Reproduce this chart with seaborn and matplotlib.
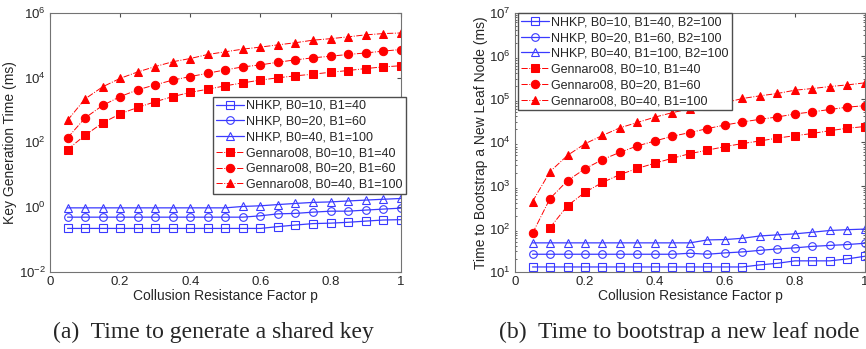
import matplotlib
matplotlib.use('Agg')
import matplotlib.pyplot as plt
import matplotlib.ticker as mticker
import numpy as np
import pandas as pd
import seaborn as sns

# collusion resistance factor p
p = [0.05, 0.1, 0.15, 0.2, 0.25, 0.3, 0.35, 0.4, 0.45, 0.5,
     0.55, 0.6, 0.65, 0.7, 0.75, 0.8, 0.85, 0.9, 0.95, 1.0]

# (a) key generation time (ms)
keygen_nhkp_10 = [0.22, 0.22, 0.22, 0.22, 0.22, 0.22, 0.22, 0.22, 0.22, 0.22,
                  0.22, 0.22, 0.25, 0.28, 0.31, 0.32, 0.34, 0.37, 0.40, 0.41]
keygen_nhkp_20 = [0.49, 0.49, 0.49, 0.49, 0.49, 0.49, 0.49, 0.49, 0.49, 0.49,
                  0.49, 0.54, 0.62, 0.64, 0.70, 0.75, 0.75, 0.81, 0.87, 0.93]
keygen_nhkp_40 = [0.95, 0.95, 0.95, 0.95, 0.95, 0.95, 0.95, 0.95, 0.95, 0.95,
                  1.05, 1.1, 1.2, 1.3, 1.4, 1.45, 1.55, 1.65, 1.75, 1.85]
keygen_gen_10 = [60, 166, 400, 760, 1200, 1800, 2600, 3500, 4400, 5600,
                 6900, 8400, 9900, 11400, 12800, 14700, 16600, 19100, 21500, 23300]
keygen_gen_20 = [137, 570, 1380, 2600, 4200, 6000, 8400, 10800, 13700, 17400,
                 21500, 24800, 30000, 35500, 41000, 46000, 52000, 58000, 66000, 74000]
keygen_gen_40 = [480, 2200, 5200, 9500, 15000, 22000, 31000, 39000, 52000, 63000,
                 76000, 88000, 103000, 120000, 144000, 160000, 182000, 210000, 230000, 240000]

# (b) bootstrap time (ms)
boot_nhkp_10 = [13, 13, 13, 13, 13, 13, 13, 13, 13, 13,
                13, 13, 13, 14.5, 15.8, 18, 18, 18, 20, 23]
boot_nhkp_20 = [25.6, 25.6, 25.6, 25.6, 25.6, 25.6, 25.6, 25.6, 25.6, 27,
                25.6, 27.5, 29, 31.5, 34, 36, 39, 41, 43, 46]
boot_nhkp_40 = [47, 47, 47, 47, 47, 47, 47, 47, 47, 47,
                55, 56, 60, 68, 72, 76, 83, 91, 95, 98]
boot_gen_10 = [np.nan, 106, 340, 700, 1180, 1800, 2500, 3300, 4300, 5500,
               6600, 8000, 9400, 10800, 12600, 14300, 16100, 18700, 21300, 23300]
boot_gen_20 = [78, 500, 1300, 2450, 4000, 5900, 8300, 10800, 13900, 16900,
               20900, 25300, 29700, 34300, 38800, 45600, 51000, 57900, 65500, 71000]
boot_gen_40 = [425, 2100, 5000, 9300, 14500, 21800, 29000, 38500, 49000, 60000,
               71000, 83000, 104000, 120000, 136000, 162000, 177000, 197000, 215000, 240000]

labels_a = ['NHKP, B0=10, B1=40', 'NHKP, B0=20, B1=60', 'NHKP, B0=40, B1=100',
            'Gennaro08, B0=10, B1=40', 'Gennaro08, B0=20, B1=60', 'Gennaro08, B0=40, B1=100']
labels_b = ['NHKP, B0=10, B1=40, B2=100', 'NHKP, B0=20, B1=60, B2=100',
            'NHKP, B0=40, B1=100, B2=100',
            'Gennaro08, B0=10, B1=40', 'Gennaro08, B0=20, B1=60', 'Gennaro08, B0=40, B1=100']

sns.set_style('white')
plt.rcParams['font.family'] = ['Liberation Sans', 'DejaVu Sans']
plt.rcParams['mathtext.default'] = 'regular'

blue = '#3a3aff'
red = '#ff0000'
markers = ['s', 'o', '^']


def draw_panel(ax, series, labels):
    for i, (vals, lab) in enumerate(zip(series, labels)):
        d = pd.DataFrame({'p': p, 't': vals}).dropna()
        if i < 3:
            sns.lineplot(data=d, x='p', y='t', ax=ax, label=lab, color=blue,
                         marker=markers[i], markersize=5.5, markerfacecolor='none',
                         markeredgecolor=blue, markeredgewidth=0.8, linewidth=0.9)
        else:
            sns.lineplot(data=d, x='p', y='t', ax=ax, label=lab, color=red,
                         marker=markers[i - 3], markersize=6, markeredgecolor=red,
                         linestyle='-.', linewidth=0.7)
    ax.set_yscale('log')
    ax.set_xlim(0, 1)
    ax.set_xticks([0, 0.2, 0.4, 0.6, 0.8, 1])
    ax.set_xticklabels(['0', '0.2', '0.4', '0.6', '0.8', '1'])
    ax.set_xlabel('Collusion Resistance Factor p', fontsize=10, labelpad=1)
    ax.tick_params(direction='in', top=True, right=True, labelsize=9.5, length=3,
                   color='0.3', pad=3)
    ax.tick_params(which='minor', direction='in', left=True, right=True, length=1.5, color='0.3')
    for s in ax.spines.values():
        s.set_color('0.45')
        s.set_linewidth(0.8)


def add_legend(ax, anchor):
    ax.legend(loc='upper left', bbox_to_anchor=anchor, fontsize=9, frameon=True,
              fancybox=False, edgecolor='0.3', framealpha=1, borderpad=0.25,
              labelspacing=0.3, handlelength=2.2, handletextpad=0.2, borderaxespad=0)


fig = plt.figure(figsize=(8.66, 3.49), dpi=100)
ax1 = fig.add_axes([0.0577, 0.221, 0.405, 0.742])
ax2 = fig.add_axes([0.5947, 0.221, 0.4041, 0.742])

draw_panel(ax1, [keygen_nhkp_10, keygen_nhkp_20, keygen_nhkp_40,
                 keygen_gen_10, keygen_gen_20, keygen_gen_40], labels_a)
ax1.set_ylim(1e-2, 1e6)
ax1.set_yticks([1e-2, 1e0, 1e2, 1e4, 1e6])
ax1.yaxis.set_minor_locator(mticker.NullLocator())
ax1.set_ylabel('Key Generation Time (ms)', fontsize=10, labelpad=1)
add_legend(ax1, (0.465, 0.676))

draw_panel(ax2, [boot_nhkp_10, boot_nhkp_20, boot_nhkp_40,
                 boot_gen_10, boot_gen_20, boot_gen_40], labels_b)
ax2.set_ylim(1e1, 1e7)
ax2.yaxis.set_major_locator(mticker.LogLocator(base=10, numticks=10))
ax2.yaxis.set_minor_locator(mticker.LogLocator(base=10, subs=np.arange(2, 10), numticks=20))
ax2.yaxis.set_minor_formatter(mticker.NullFormatter())
ax2.set_ylabel('Time to Bootstrap a New Leaf Node (ms)', fontsize=10, labelpad=1)
add_legend(ax2, (0.009, 0.999))

fig.text(0.246, 0.047, '(a)  Time to generate a shared key', ha='center', va='center',
         fontsize=17, family=['Liberation Serif', 'DejaVu Serif'])
fig.text(0.784, 0.047, '(b)  Time to bootstrap a new leaf node', ha='center', va='center',
         fontsize=17, family=['Liberation Serif', 'DejaVu Serif'])

fig.savefig('out.png', dpi=100)
